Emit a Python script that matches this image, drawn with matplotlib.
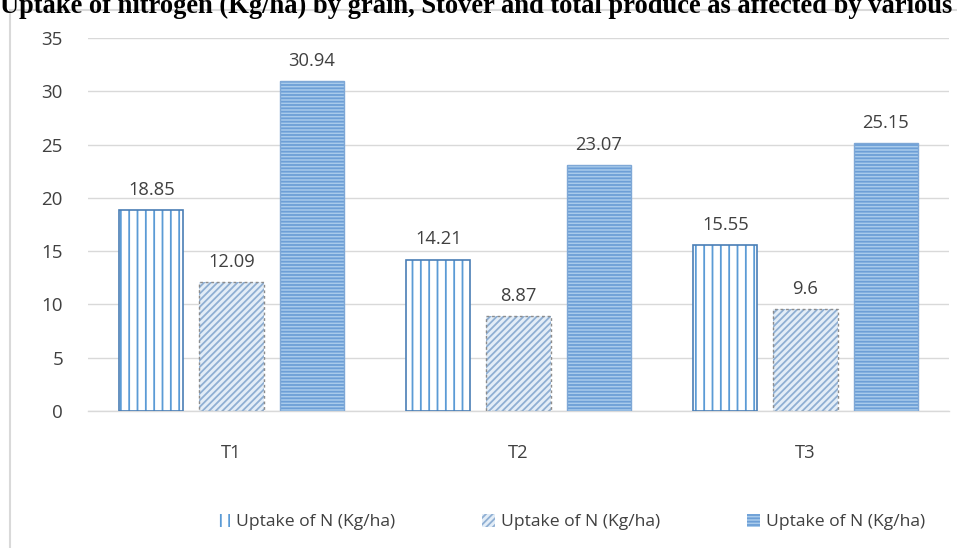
import matplotlib
matplotlib.use("Agg")
import matplotlib.pyplot as plt
import numpy as np
from matplotlib.patches import Rectangle

categories = ["T1", "T2", "T3"]
grain = [18.85, 14.21, 15.55]
stover = [12.09, 8.87, 9.6]
total = [30.94, 23.07, 25.15]
series_labels = ["Uptake of N (Kg/ha)", "Uptake of N (Kg/ha)", "Uptake of N (Kg/ha)"]
y_ticks = [0, 5, 10, 15, 20, 25, 30, 35]

plt.rcParams["font.family"] = ["Open Sans", "DejaVu Sans"]
plt.rcParams["hatch.linewidth"] = 1.3

W, H = 957, 548
fig = plt.figure(figsize=(W / 100, H / 100), dpi=100)

# outer chart frame
fig.patches.append(Rectangle((10 / W, -0.05), 1.2, (H - 10) / H + 0.05,
                             transform=fig.transFigure, fill=False,
                             edgecolor="#D9D9D9", linewidth=1.5, zorder=0))

# title (runs past the top and right edges)
fig.text(0.0, (H - 13) / H,
         "Uptake of nitrogen (Kg/ha) by grain, Stover and total produce as affected by various",
         family=["Liberation Serif"], fontweight="bold", fontsize=19.1,
         ha="left", va="baseline", color="black")

ax = fig.add_axes([88 / W, (H - 411) / H, (949 - 88) / W, (411 - 38) / H])
x = np.arange(len(categories))
w = 0.223
off = 0.279

b1 = ax.bar(x - off, grain, w, facecolor="white", edgecolor="#5B9BD5",
            hatch="||", linewidth=0, zorder=3)
ax.bar(x - off, grain, w, fill=False, edgecolor="#4A7EB5", linewidth=1.2, zorder=4)

b2 = ax.bar(x, stover, w, facecolor="#E3EDF7", edgecolor="#8FAFD3",
            hatch="/////", linewidth=0, zorder=3)
ax.bar(x, stover, w, fill=False, edgecolor="#8C8C8C", linewidth=1.0,
       linestyle=(0, (2, 2)), zorder=4)

b3 = ax.bar(x + off, total, w, facecolor="#A9CBEB", edgecolor="#6D9FD6",
            hatch="-----", linewidth=0, zorder=3)
ax.bar(x + off, total, w, fill=False, edgecolor="#7FA8D6", linewidth=1.0, zorder=4)

for bars, vals in ((b1, grain), (b2, stover), (b3, total)):
    for rect, v in zip(bars, vals):
        ax.annotate(f"{v:g}", (rect.get_x() + rect.get_width() / 2, v),
                    xytext=(0, 8), textcoords="offset points",
                    ha="center", va="bottom", fontsize=13.2, color="#404040")

ax.set_xlim(-0.5, 2.5)
ax.set_ylim(0, 35)
ax.set_yticks(y_ticks)
ax.set_xticks(x)
ax.set_xticklabels(categories)
ax.tick_params(axis="y", length=0, pad=18, labelsize=13.5, labelcolor="#404040")
ax.tick_params(axis="x", length=0, pad=24, labelsize=13.2, labelcolor="#404040")
ax.grid(axis="y", color="#D9D9D9", linewidth=1.0, zorder=0)
for s in ("top", "right", "left"):
    ax.spines[s].set_visible(False)
ax.spines["bottom"].set_color("#D9D9D9")
ax.spines["bottom"].set_linewidth(1.0)
ax.set_axisbelow(True)

leg = fig.legend([b1, b2, b3], series_labels, loc="center",
                 bbox_to_anchor=(571 / W, (H - 522) / H), ncol=3, frameon=False,
                 fontsize=12.6, handlelength=0.75, handleheight=0.75,
                 handletextpad=0.3, columnspacing=5.0)
for t in leg.get_texts():
    t.set_color("#404040")

fig.savefig("out.png", dpi=100)
